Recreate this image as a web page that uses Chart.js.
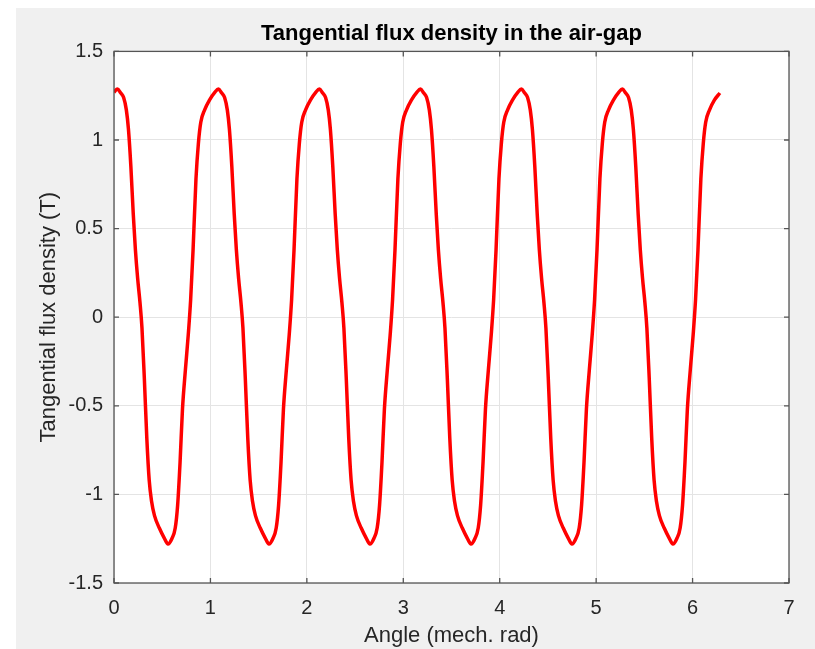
<!DOCTYPE html>
<html>
<head>
<meta charset="utf-8">
<script src="https://cdn.jsdelivr.net/npm/chart.js@4/dist/chart.umd.min.js"></script>
<style>
  html, body { margin: 0; padding: 0; background: #ffffff; }
  #wrap { width: 815px; height: 649px; position: relative; }
</style>
</head>
<body>
<div id="wrap"><canvas id="fluxChart" width="815" height="649"></canvas></div>
<script>
// values
var chartTitle = "Tangential flux density in the air-gap";
var xLabel = "Angle (mech. rad)";
var yLabel = "Tangential flux density (T)";

var xTicks = [0, 1, 2, 3, 4, 5, 6, 7];
var yTicks = [-1.5, -1, -0.5, 0, 0.5, 1, 1.5];

// angle (mech. rad), one line per pole cycle
var angle = [
    0.000,0.035,0.070,0.100,0.128,0.150,0.175,0.200,0.222,0.245,0.270,0.290,0.315,0.340,0.365,0.390,0.420,0.470,0.520,0.560,0.600,0.635,0.660,0.685,0.710,0.740,0.770,0.795,0.820,0.850,0.875,0.900,0.940,0.990,
    1.047,1.082,1.117,1.147,1.175,1.197,1.222,1.247,1.269,1.292,1.317,1.337,1.362,1.387,1.412,1.437,1.467,1.517,1.567,1.607,1.647,1.682,1.707,1.732,1.757,1.787,1.817,1.842,1.867,1.897,1.922,1.947,1.987,2.037,
    2.094,2.129,2.164,2.194,2.222,2.244,2.269,2.294,2.316,2.339,2.364,2.384,2.409,2.434,2.459,2.484,2.514,2.564,2.614,2.654,2.694,2.729,2.754,2.779,2.804,2.834,2.864,2.889,2.914,2.944,2.969,2.994,3.034,3.084,
    3.142,3.177,3.212,3.242,3.270,3.292,3.317,3.342,3.364,3.387,3.412,3.432,3.457,3.482,3.507,3.532,3.562,3.612,3.662,3.702,3.742,3.777,3.802,3.827,3.852,3.882,3.912,3.937,3.962,3.992,4.017,4.042,4.082,4.132,
    4.189,4.224,4.259,4.289,4.317,4.339,4.364,4.389,4.411,4.434,4.459,4.479,4.504,4.529,4.554,4.579,4.609,4.659,4.709,4.749,4.789,4.824,4.849,4.874,4.899,4.929,4.959,4.984,5.009,5.039,5.064,5.089,5.129,5.179,
    5.236,5.271,5.306,5.336,5.364,5.386,5.411,5.436,5.458,5.481,5.506,5.526,5.551,5.576,5.601,5.626,5.656,5.706,5.756,5.796,5.836,5.871,5.896,5.921,5.946,5.976,6.006,6.031,6.056,6.086,6.111,6.136,6.176,6.226,
    6.283
];

// tangential flux density (T)
var flux = [
    1.27,1.288,1.265,1.24,1.17,1.06,0.85,0.58,0.38,0.22,0.08,-0.06,-0.35,-0.68,-0.92,-1.04,-1.12,-1.19,-1.245,-1.28,-1.25,-1.19,-1.06,-0.82,-0.52,-0.30,-0.10,0.10,0.38,0.78,0.98,1.10,1.17,1.225,
    1.27,1.288,1.265,1.24,1.17,1.06,0.85,0.58,0.38,0.22,0.08,-0.06,-0.35,-0.68,-0.92,-1.04,-1.12,-1.19,-1.245,-1.28,-1.25,-1.19,-1.06,-0.82,-0.52,-0.30,-0.10,0.10,0.38,0.78,0.98,1.10,1.17,1.225,
    1.27,1.288,1.265,1.24,1.17,1.06,0.85,0.58,0.38,0.22,0.08,-0.06,-0.35,-0.68,-0.92,-1.04,-1.12,-1.19,-1.245,-1.28,-1.25,-1.19,-1.06,-0.82,-0.52,-0.30,-0.10,0.10,0.38,0.78,0.98,1.10,1.17,1.225,
    1.27,1.288,1.265,1.24,1.17,1.06,0.85,0.58,0.38,0.22,0.08,-0.06,-0.35,-0.68,-0.92,-1.04,-1.12,-1.19,-1.245,-1.28,-1.25,-1.19,-1.06,-0.82,-0.52,-0.30,-0.10,0.10,0.38,0.78,0.98,1.10,1.17,1.225,
    1.27,1.288,1.265,1.24,1.17,1.06,0.85,0.58,0.38,0.22,0.08,-0.06,-0.35,-0.68,-0.92,-1.04,-1.12,-1.19,-1.245,-1.28,-1.25,-1.19,-1.06,-0.82,-0.52,-0.30,-0.10,0.10,0.38,0.78,0.98,1.10,1.17,1.225,
    1.27,1.288,1.265,1.24,1.17,1.06,0.85,0.58,0.38,0.22,0.08,-0.06,-0.35,-0.68,-0.92,-1.04,-1.12,-1.19,-1.245,-1.28,-1.25,-1.19,-1.06,-0.82,-0.52,-0.30,-0.10,0.10,0.38,0.78,0.98,1.10,1.17,1.225,
    1.265
];

var points = [];
for (var i = 0; i < angle.length; i++) {
    points.push({x: angle[i], y: flux[i]});
}

var fontFamily = "'Liberation Sans', Arial, Helvetica, sans-serif";
var textColor = "#262626";
var axisColor = "#555555";

// gray figure background + white axes area (matlab look)
var figureBackground = {
    id: 'figureBackground',
    beforeDraw: function(chart) {
        var ctx = chart.ctx;
        var a = chart.chartArea;
        ctx.save();
        ctx.fillStyle = "#ffffff";
        ctx.fillRect(0, 0, chart.width, chart.height);
        ctx.fillStyle = "#f0f0f0";
        ctx.fillRect(16, 8, chart.width - 16, chart.height - 8);
        ctx.fillStyle = "#ffffff";
        ctx.fillRect(a.left, a.top, a.right - a.left, a.bottom - a.top);
        ctx.restore();
    }
};

// box around the axes with ticks pointing inwards on all sides
var axesBox = {
    id: 'axesBox',
    afterDraw: function(chart) {
        var ctx = chart.ctx;
        var a = chart.chartArea;
        var xs = chart.scales.x;
        var ys = chart.scales.y;
        var len = 5;
        ctx.save();
        ctx.strokeStyle = axisColor;
        ctx.lineWidth = 1.3;
        ctx.strokeRect(a.left, a.top, a.right - a.left, a.bottom - a.top);
        ctx.beginPath();
        xTicks.forEach(function(v) {
            var px = xs.getPixelForValue(v);
            ctx.moveTo(px, a.bottom);
            ctx.lineTo(px, a.bottom - len);
            ctx.moveTo(px, a.top);
            ctx.lineTo(px, a.top + len);
        });
        yTicks.forEach(function(v) {
            var py = ys.getPixelForValue(v);
            ctx.moveTo(a.left, py);
            ctx.lineTo(a.left + len, py);
            ctx.moveTo(a.right, py);
            ctx.lineTo(a.right - len, py);
        });
        ctx.stroke();
        ctx.restore();
    }
};

new Chart(document.getElementById("fluxChart"), {
    type: 'line',
    data: {
        datasets: [{
            data: points,
            borderColor: "#ff0000",
            borderWidth: 3.5,
            pointRadius: 0,
            fill: false,
            cubicInterpolationMode: 'monotone'
        }]
    },
    options: {
        responsive: false,
        animation: false,
        events: [],
        layout: { padding: { left: 30, right: 26, top: 0, bottom: 0 } },
        plugins: {
            legend: { display: false },
            tooltip: { enabled: false },
            title: {
                display: true,
                text: chartTitle,
                fullSize: false,
                color: "#000000",
                font: { family: fontFamily, size: 22, weight: 'bold' },
                padding: { top: 21, bottom: 4 }
            }
        },
        scales: {
            x: {
                type: 'linear',
                min: 0,
                max: 7,
                afterBuildTicks: function(scale) {
                    scale.ticks = xTicks.map(function(v) { return {value: v}; });
                },
                afterFit: function(scale) { scale.height = 66; },
                grid: { color: "#e4e4e4", drawTicks: false },
                border: { display: false },
                ticks: {
                    color: textColor,
                    padding: 13,
                    maxRotation: 0,
                    font: { family: fontFamily, size: 20 },
                    callback: function(value) { return String(value); }
                },
                title: {
                    display: true,
                    text: xLabel,
                    color: textColor,
                    font: { family: fontFamily, size: 22 },
                    padding: { top: 0, bottom: 0 }
                }
            },
            y: {
                type: 'linear',
                min: -1.5,
                max: 1.5,
                afterBuildTicks: function(scale) {
                    scale.ticks = yTicks.map(function(v) { return {value: v}; });
                },
                afterFit: function(scale) { scale.width = 84; },
                grid: { color: "#e4e4e4", drawTicks: false },
                border: { display: false },
                ticks: {
                    color: textColor,
                    padding: 11,
                    font: { family: fontFamily, size: 20 },
                    callback: function(value) { return String(value); }
                },
                title: {
                    display: true,
                    text: yLabel,
                    color: textColor,
                    font: { family: fontFamily, size: 22 },
                    padding: { top: 6, bottom: 0 }
                }
            }
        }
    },
    plugins: [figureBackground, axesBox]
});
</script>
</body>
</html>
